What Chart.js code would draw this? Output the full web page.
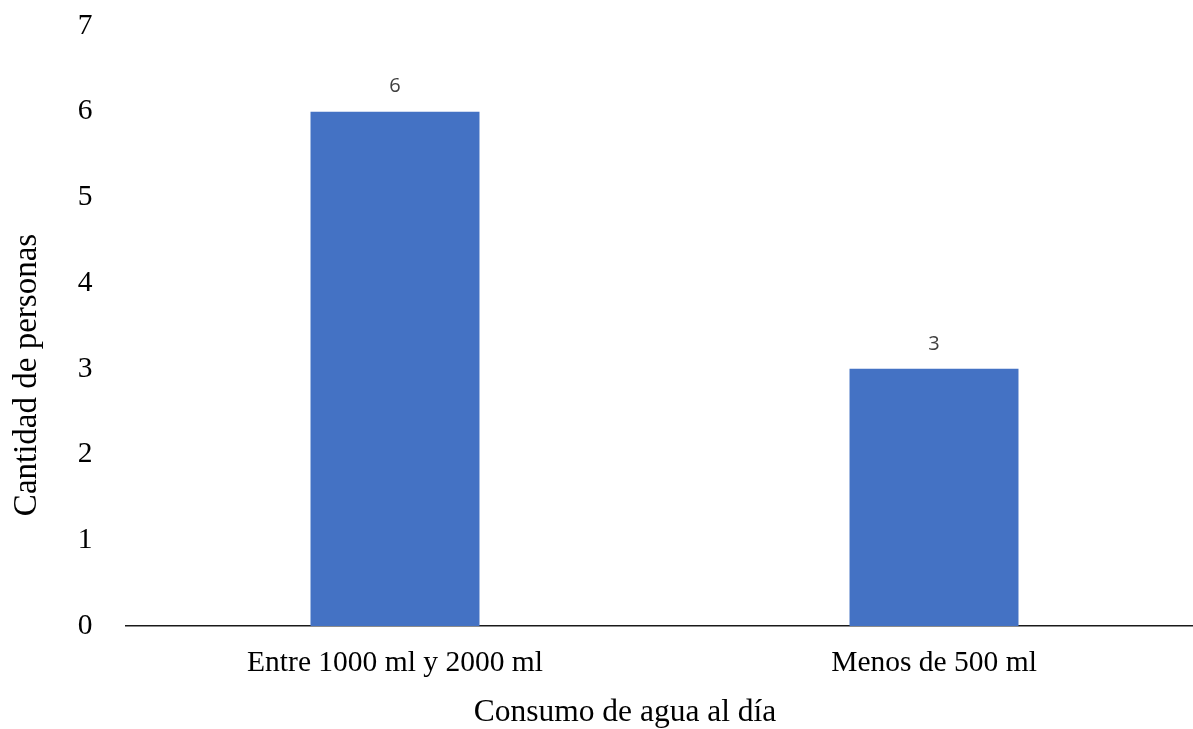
<!DOCTYPE html>
<html>
<head>
<meta charset="utf-8">
<script src="https://cdn.jsdelivr.net/npm/chart.js@4.4.1/dist/chart.umd.min.js"></script>
<style>
  html, body { margin: 0; padding: 0; background: #fff; overflow: hidden; }
  #wrap { position: absolute; left: 0; top: 0; width: 1210px; height: 729px; }
</style>
</head>
<body>
<div id="wrap"><canvas id="myChart"></canvas></div>
<script>
// data
const categories = ["Entre 1000 ml y 2000 ml", "Menos de 500 ml"];
const personas = [6, 3];
const yTicks = [0, 1, 2, 3, 4, 5, 6, 7];
const xTitle = "Consumo de agua al día";
const yTitle = "Cantidad de personas";

const serif = "'Liberation Serif', 'Times New Roman', serif";

// value labels above the bars + axis titles
const labelsPlugin = {
  id: "labelsPlugin",
  afterDatasetsDraw(chart) {
    const ctx = chart.ctx;
    const meta = chart.getDatasetMeta(0);
    ctx.save();
    ctx.fillStyle = "#404040";
    ctx.font = "20px 'Open Sans', sans-serif";
    ctx.textAlign = "center";
    ctx.textBaseline = "bottom";
    meta.data.forEach((bar, i) => {
      ctx.fillText(personas[i], bar.x, bar.y - 15);
    });
    ctx.restore();
  },
  afterDraw(chart) {
    const ctx = chart.ctx;
    ctx.save();
    ctx.fillStyle = "#000";
    ctx.textAlign = "center";
    ctx.textBaseline = "middle";
    ctx.font = "31.5px " + serif;
    ctx.fillText(xTitle, 625, 713);
    ctx.translate(27, 375);
    ctx.rotate(-Math.PI / 2);
    ctx.font = "33px " + serif;
    ctx.fillText(yTitle, 0, 0);
    ctx.restore();
  }
};

const ctx = document.getElementById("myChart").getContext("2d");
const chart = new Chart(ctx, {
  type: "bar",
  data: {
    labels: categories,
    datasets: [
      {
        data: personas,
        backgroundColor: "#4472C4",
        borderWidth: 0,
        barPercentage: 1,
        categoryPercentage: 0.3135
      }
    ]
  },
  options: {
    responsive: true,
    maintainAspectRatio: false,
    animation: false,
    layout: { padding: { top: 26, right: 6.5, left: 0, bottom: 0 } },
    plugins: {
      legend: { display: false },
      tooltip: { enabled: false }
    },
    scales: {
      x: {
        grid: { display: false },
        border: { display: true, color: "#1a1a1a", width: 1.5 },
        ticks: {
          color: "#000",
          font: { family: serif, size: 29.5 },
          padding: 12,
          maxRotation: 0
        },
        afterFit: scale => {
          scale.height = 103;
          scale.paddingLeft = 0;
          scale.paddingRight = 0;
        }
      },
      y: {
        min: 0,
        max: 7,
        grid: { display: false },
        border: { display: false },
        afterBuildTicks: scale => {
          scale.ticks = yTicks.map(v => ({ value: v }));
        },
        ticks: {
          color: "#000",
          font: { family: serif, size: 29.5 },
          padding: 25
        },
        afterFit: scale => {
          scale.width = 125.5;
          scale.paddingTop = 0;
          scale.paddingBottom = 0;
        }
      }
    }
  },
  plugins: [labelsPlugin]
});
</script>
</body>
</html>
